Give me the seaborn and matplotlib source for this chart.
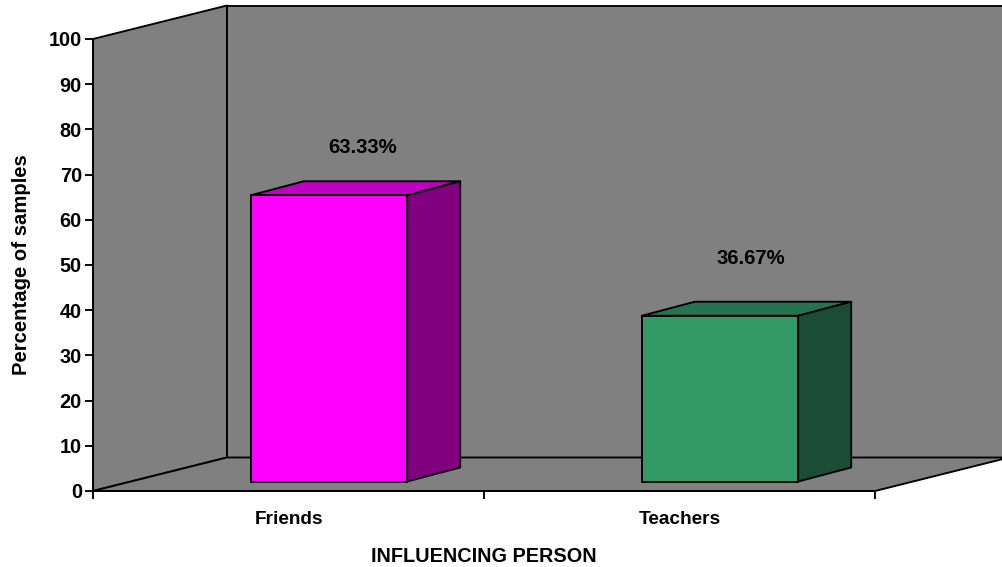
import matplotlib
matplotlib.use('Agg')
import matplotlib.pyplot as plt
import seaborn as sns
from matplotlib.patches import Polygon
from matplotlib.transforms import Affine2D

# data
people = ['Friends', 'Teachers']
percent = [63.33, 36.67]
labels = ['63.33%', '36.67%']
y_ticks = list(range(0, 101, 10))

# colours: front, top, side of each bar
front_cols = ['#FF00FF', '#339966']
top_cols = ['#C000C0', '#267350']
side_cols = ['#800080', '#1A4D33']
wall_col = '#808080'

sns.set_style('white')
plt.rcParams['font.family'] = ['Liberation Sans', 'DejaVu Sans']
plt.rcParams['font.weight'] = 'bold'
plt.rcParams['text.color'] = 'black'
plt.rcParams['axes.labelcolor'] = 'black'
plt.rcParams['xtick.labelcolor'] = 'black'
plt.rcParams['ytick.labelcolor'] = 'black'

W, H = 1002, 567
fig = plt.figure(figsize=(W / 100, H / 100), dpi=100)
# front plane of the fake 3d box, pixels from the reference
left, right, top, bottom = 93, 875, 39, 491
ax = fig.add_axes([left / W, 1 - bottom / H, (right - left) / W, (bottom - top) / H])
ax.patch.set_alpha(0)

LW = 1.35
FS = 14.3
sns.barplot(x=people, y=percent, hue=people, palette=front_cols, legend=False,
            width=0.4, saturation=1, edgecolor='black', linewidth=LW, ax=ax)

ax.set_xlim(-0.5, 1.5)
ax.set_ylim(0, 100)
ax.set_yticks(y_ticks)
ax.set_yticklabels([str(t) for t in y_ticks], fontsize=FS, fontweight='bold', color='black')
ax.tick_params(axis='y', left=True, length=6, width=LW, pad=2, color='black')
ax.set_xticks([0, 1])
ax.set_xticklabels(people, fontsize=13.7, fontweight='bold', color='black')
ax.set_xticks([-0.5, 0.5, 1.5], minor=True)
ax.tick_params(axis='x', which='major', bottom=False, length=0, pad=14.5)
ax.tick_params(axis='x', which='minor', bottom=True, length=6, width=LW, color='black')
sns.despine(ax=ax)
for s in ['left', 'bottom']:
    ax.spines[s].set_linewidth(LW)
    ax.spines[s].set_color('black')

ax.set_xlabel('INFLUENCING PERSON', fontsize=FS, fontweight='bold', va='center', color='black')
ax.xaxis.set_label_coords(0.5, (bottom - 556) / (bottom - top))
ax.set_ylabel('Percentage of samples', fontsize=14.6, fontweight='bold', va='center', color='black')
ax.yaxis.set_label_coords((22 - left) / (right - left), 0.5)


# everything below is in display pixels (y up)
def face(pts, col, z):
    ax.add_patch(Polygon(pts, closed=True, facecolor=col, edgecolor='black', linewidth=LW,
                         joinstyle='round', transform=None, clip_on=False, zorder=z))


fig.canvas.draw()
x0, y0 = ax.transData.transform((-0.5, 0))
x1, y1 = ax.transData.transform((1.5, 100))
dx, dy = 134, 33.5
# left wall, back wall, floor
face([(x0, y0), (x0 + dx, y0 + dy), (x0 + dx, y1 + dy), (x0, y1)], wall_col, 0.5)
face([(x0 + dx, y0 + dy), (x1 + dx, y0 + dy), (x1 + dx, y1 + dy), (x0 + dx, y1 + dy)], wall_col, 0.5)
face([(x0, y0), (x1, y0), (x1 + dx, y0 + dy), (x0 + dx, y0 + dy)], wall_col, 0.6)

# bars sit forward of the ticks and slightly above the front edge of the floor
shift = Affine2D().translate(40.5, 9.5)
bar_dx, bar_dy = 53, 14
for bar, c_top, c_side in zip(ax.patches, top_cols, side_cols):
    bar.set_transform(ax.transData + shift)
    bar.set_clip_on(False)
    bar.set_zorder(1.2)
    xa, ya = (ax.transData + shift).transform((bar.get_x(), bar.get_y()))
    xb, yb = (ax.transData + shift).transform((bar.get_x() + bar.get_width(), bar.get_height()))
    face([(xa, yb), (xb, yb), (xb + bar_dx, yb + bar_dy), (xa + bar_dx, yb + bar_dy)], c_top, 1.1)
    face([(xb, ya), (xb + bar_dx, ya + bar_dy), (xb + bar_dx, yb + bar_dy), (xb, yb)], c_side, 1.1)

# value labels, offset in pixels from the top of the bar
offsets = [(74.5, 48), (71.5, 58)]
for i, (val, txt, off) in enumerate(zip(percent, labels, offsets)):
    ax.annotate(txt, xy=(i, val), xytext=(off[0] * 0.72, (off[1] + 9) * 0.72),
                textcoords='offset points', ha='center', va='center',
                fontsize=14.6, fontweight='bold', color='black', annotation_clip=False)

fig.savefig('out.png', dpi=100)
